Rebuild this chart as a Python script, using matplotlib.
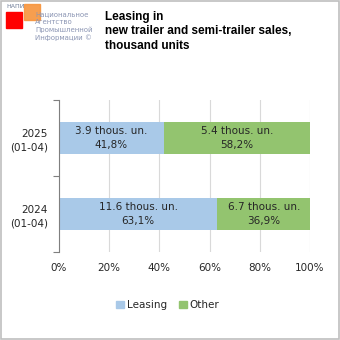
import matplotlib.pyplot as plt
from matplotlib.patches import Rectangle
import numpy as np

# Data
periods = ['2024\n(01-04)', '2025\n(01-04)']
leasing_units = [11.6, 3.9]
other_units = [6.7, 5.4]
leasing_pct = [63.1, 41.8]
other_pct = [36.9, 58.2]
x_ticks = [0, 20, 40, 60, 80, 100]

blue = '#A9C9E8'
green = '#93C46F'
txt = '#262626'


def seg_label(units, pct):
    # units with a dot, share with a comma
    return f'{units} thous. un.\n' + f'{pct:.1f}'.replace('.', ',') + '%'


fig = plt.figure(figsize=(3.4, 3.4), dpi=100)
fig.patch.set_facecolor('white')

# frame around the figure
fig.patches.append(Rectangle((0.004, 0.004), 0.992, 0.992, transform=fig.transFigure,
                             fill=False, edgecolor='#BFBFBF', linewidth=1.2))

ax = fig.add_axes([59 / 340, 88 / 340, 251 / 340, 152 / 340])
y = np.arange(len(periods))

ax.barh(y, leasing_pct, height=0.43, color=blue, zorder=2)
ax.barh(y, other_pct, left=leasing_pct, height=0.43, color=green, zorder=2)

for i in range(len(periods)):
    ax.text(leasing_pct[i] / 2, y[i], seg_label(leasing_units[i], leasing_pct[i]),
            ha='center', va='center', fontsize=7.5, color=txt, linespacing=1.5, zorder=3)
    ax.text(leasing_pct[i] + other_pct[i] / 2, y[i], seg_label(other_units[i], other_pct[i]),
            ha='center', va='center', fontsize=7.5, color=txt, linespacing=1.5, zorder=3)

ax.set_xlim(0, 100)
ax.set_ylim(-0.5, 1.5)
ax.set_xticks(x_ticks)
ax.set_xticklabels([f'{v}%' for v in x_ticks], fontsize=7.5, color=txt)
ax.tick_params(axis='x', length=0, pad=8)
ax.xaxis.grid(True, color='#D9D9D9', linewidth=0.8, zorder=0)

# category labels sit between the boundary ticks
ax.set_yticks([-0.5, 0.5, 1.5])
ax.set_yticklabels([])
ax.set_yticks(y, minor=True)
ax.set_yticklabels(periods, minor=True, fontsize=7.5, color=txt, linespacing=1.5)
ax.tick_params(axis='y', which='major', length=4, color='#7F7F7F', width=0.8)
ax.tick_params(axis='y', which='minor', length=0, pad=8)

for s in ['top', 'right', 'bottom']:
    ax.spines[s].set_visible(False)
ax.spines['left'].set_color('#7F7F7F')
ax.spines['left'].set_linewidth(0.8)

# legend
handles = [Rectangle((0, 0), 1, 1, color=blue), Rectangle((0, 0), 1, 1, color=green)]
fig.legend(handles, ['Leasing', 'Other'], loc='center', bbox_to_anchor=(168 / 340, 1 - 305 / 340),
           ncol=2, frameon=False, fontsize=7.5, handlelength=0.7, handleheight=0.7,
           handletextpad=0.3, columnspacing=1.2, labelcolor=txt)

# title
fig.text(105 / 340, 1 - 11 / 340, 'Leasing in\nnew trailer and semi-trailer sales,\nthousand units',
         ha='left', va='top', fontsize=8.5, fontweight='bold', family='Liberation Sans',
         linespacing=1.27)

# logo
fig.text(35 / 340, 1 - 11 / 340, 'Национальное\nАгентство\nПромышленной\nИнформации ©',
         fontsize=5, color='#8C96B4', va='top', ha='left', linespacing=1.3)
fig.patches.append(Rectangle((6 / 340, 1 - 28 / 340), 16 / 340, 16 / 340,
                             transform=fig.transFigure, color='#FF0000'))
fig.patches.append(Rectangle((24 / 340, 1 - 20 / 340), 16 / 340, 16 / 340,
                             transform=fig.transFigure, color='#F7943C', alpha=0.9))
fig.text(6 / 340, 1 - 4 / 340, 'НАПИ', fontsize=4.5, color='#6C7A96', va='top', ha='left')

fig.savefig('out.png', dpi=100)
